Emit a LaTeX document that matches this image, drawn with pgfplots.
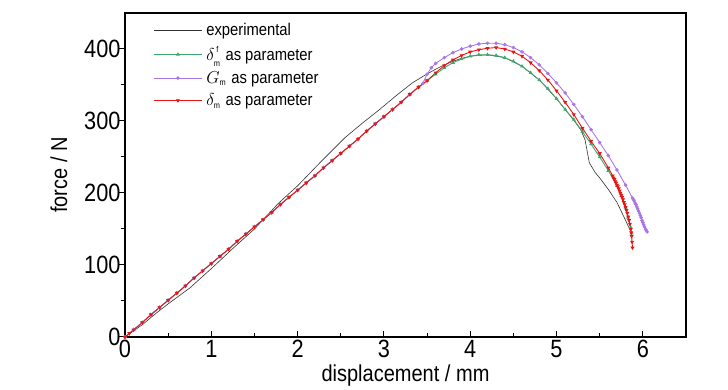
\documentclass[border=0pt]{standalone}
\usepackage{pgfplots}
\pgfplotsset{compat=1.18}
\usepackage{fontspec}
\setmainfont{Liberation Sans}[FakeStretch=0.87]
\definecolor{cgreen}{RGB}{60,170,110}
\definecolor{cpurple}{RGB}{170,120,230}
\definecolor{cred}{RGB}{235,20,20}
\definecolor{cblack}{RGB}{50,50,50}
\begin{document}
\begin{tikzpicture}
\path[use as bounding box] (0,0) rectangle (728pt,390pt);
\begin{axis}[
 at={(125pt,53pt)}, anchor=south west, scale only axis, width=561pt, height=324pt,
 xmin=0, xmax=6.5, ymin=0, ymax=450,
 xtick={0,...,6}, ytick={0,100,...,400},
 minor x tick num=1, minor y tick num=1,
 xtick pos=bottom, ytick pos=left,
 xtick align=inside, ytick align=outside,
 major tick length=6pt, minor tick length=4pt,
 tick style={black, line width=1pt},
 axis line style={line width=1.1pt},
 /pgf/number format/assume math mode=true,
 tick label style={font=\fontsize{25}{28}\selectfont},
 yticklabel style={xshift=5pt},
 label style={font=\fontsize{23}{26}\selectfont},
 ylabel shift=10pt,
 xlabel={displacement / mm}, ylabel={force / N},
 legend cell align=left,
 legend style={at={(0.045,0.98)}, anchor=north west, draw=none, fill=none,
   font=\fontsize{17}{19}\selectfont, row sep=5pt,
   nodes={inner xsep=4pt}},
 legend image code/.code={\draw[mark repeat=2,mark phase=2] plot coordinates {(0pt,0pt) (24pt,0pt) (48pt,0pt)};},
]
\addplot[cblack, line width=0.6pt, no marks] coordinates {
(0,0) (0.2,17) (0.36,33) (0.5,46) (0.75,68) (1.0,95) (1.25,123) (1.5,150) (1.78,186) (2.0,210) (2.25,241) (2.55,277) (2.75,297) (2.94,315) (3.15,336) (3.33,353) (3.48,364) (3.6,372) (3.7,378) (3.8,383) (3.9,387) (4.0,390) (4.2,392) (4.4,388) (4.6,376) (4.8,357) (5.0,331) (5.2,301) (5.28,288) (5.33,274) (5.38,242) (5.45,228) (5.5,221) (5.6,205) (5.7,187) (5.8,162) (5.85,149)
};
\addlegendentry{experimental}
\addplot[cgreen, line width=0.9pt, mark=triangle*, mark size=1.4pt] coordinates {
(0,0) (0.1,10) (0.2,20) (0.3,31) (0.4,41) (0.5,51) (0.6,61) (0.7,71) (0.8,82) (0.9,92) (1.0,102) (1.1,112) (1.2,122) (1.3,133) (1.4,143) (1.5,153) (1.6,163) (1.7,173) (1.8,184) (1.9,194) (2.0,204) (2.1,214) (2.2,224) (2.3,235) (2.4,245) (2.5,255) (2.6,265) (2.7,275) (2.8,286) (2.9,296) (3.0,306) (3.1,316) (3.2,326) (3.3,337) (3.4,347)
(3.5,356) (3.6,365) (3.7,374) (3.8,381) (3.9,386) (4.0,390) (4.1,392) (4.2,392) (4.3,391) (4.4,388) (4.5,383) (4.6,376) (4.7,367) (4.8,357) (4.9,345) (5.0,331) (5.1,316) (5.2,302) (5.3,285) (5.4,268) (5.5,250) (5.6,231) (5.7,210) (5.75,196) (5.8,180) (5.83,166) (5.86,152) (5.87,144)
};
\addlegendentry{$\delta^{\hspace{2pt}\raisebox{2pt}{$\scriptscriptstyle\mathrm{f}$}}_{\raisebox{-1.5pt}{$\scriptscriptstyle\mathrm{m}$}}$ as parameter}
\addplot[cpurple, line width=0.9pt, mark=*, mark size=1.3pt] coordinates {
(0,0) (0.1,10) (0.2,20) (0.3,31) (0.4,41) (0.5,51) (0.6,61) (0.7,71) (0.8,82) (0.9,92) (1.0,102) (1.1,112) (1.2,122) (1.3,133) (1.4,143) (1.5,153) (1.6,163) (1.7,173) (1.8,184) (1.9,194) (2.0,204) (2.1,214) (2.2,224) (2.3,235) (2.4,245) (2.5,255) (2.6,265) (2.7,275) (2.8,286) (2.9,296) (3.0,306) (3.1,316) (3.2,326) (3.3,337) (3.4,347)
(3.45,352) (3.5,365) (3.55,374) (3.6,380) (3.7,388) (3.8,395) (3.9,400) (4.0,404) (4.1,407) (4.2,408) (4.3,408) (4.4,406) (4.5,402) (4.6,396) (4.7,388) (4.8,378) (4.9,366) (5.0,353) (5.1,339) (5.2,323) (5.3,306) (5.4,288) (5.5,270) (5.6,252) (5.7,232) (5.8,211) (5.88,193)
(5.89,191) (5.9,189) (5.91,186) (5.92,184) (5.93,181) (5.94,178) (5.95,175) (5.96,172) (5.97,169) (5.98,166) (5.99,162) (6.0,159) (6.01,156) (6.02,153) (6.03,150) (6.04,148) (6.05,146)
};
\addlegendentry{$G_{\scriptscriptstyle\mathrm{m}}$ as parameter}
\addplot[cred, line width=0.9pt, mark=triangle*, mark options={rotate=180}, mark size=1.5pt] coordinates {
(0,0) (0.05,5) (0.1,10) (0.2,20) (0.3,31) (0.4,41) (0.5,51) (0.6,61) (0.7,71) (0.8,82) (0.9,92) (1.0,102) (1.1,112) (1.2,122) (1.3,133) (1.4,143) (1.5,153) (1.6,163) (1.7,173) (1.8,184) (1.9,194) (2.0,204) (2.1,214) (2.2,224) (2.3,235) (2.4,245) (2.5,255) (2.6,265) (2.7,275) (2.8,286) (2.9,296) (3.0,306) (3.1,316) (3.2,326) (3.3,337) (3.4,347)
(3.5,356) (3.6,367) (3.7,377) (3.8,385) (3.9,391) (4.0,396) (4.1,399) (4.2,401) (4.3,402) (4.4,400) (4.5,396) (4.6,390) (4.7,381) (4.8,370) (4.9,357) (5.0,342) (5.1,326) (5.2,309) (5.3,290) (5.4,272) (5.5,255) (5.6,235)
(5.65,224) (5.66,221) (5.67,219) (5.68,216) (5.69,214) (5.7,211) (5.71,209) (5.72,206) (5.73,203) (5.74,200) (5.75,197) (5.76,194) (5.77,191) (5.78,187) (5.79,184) (5.8,180) (5.81,176) (5.82,172) (5.83,167) (5.84,162) (5.85,157) (5.86,150) (5.865,145) (5.87,140) (5.875,132) (5.88,124)
};
\addlegendentry{$\delta_{\scriptscriptstyle\mathrm{m}}$ as parameter}
\end{axis}
\end{tikzpicture}
\end{document}
